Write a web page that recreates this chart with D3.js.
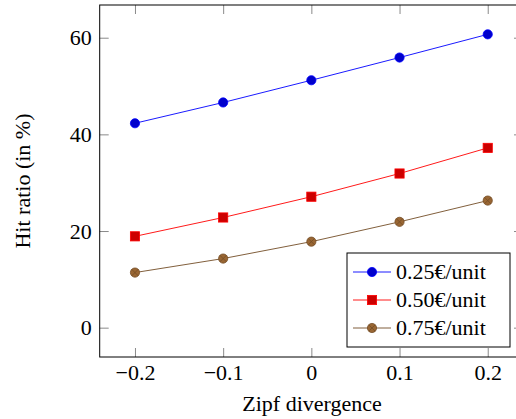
<!DOCTYPE html>
<html>
<head>
<meta charset="utf-8">
<script src="https://cdn.jsdelivr.net/npm/d3@7"></script>
<style>
  html, body { margin: 0; padding: 0; background: #fff; }
  svg { display: block; }
  svg text { font-family: "Liberation Serif", "DejaVu Serif", serif !important; fill: #000; }
</style>
</head>
<body>
<script>
// ---- data ----
const xValues = [-0.2, -0.1, 0, 0.1, 0.2];
const seriesNames = ["0.25€/unit", "0.50€/unit", "0.75€/unit"];
const series025 = [42.3, 46.6, 51.2, 55.9, 60.7];
const series050 = [18.9, 22.8, 27.1, 31.9, 37.2];
const series075 = [11.4, 14.3, 17.8, 21.9, 26.3];
const xTickValues = [-0.2, -0.1, 0, 0.1, 0.2];
const xTickLabels = ["\u22120.2", "\u22120.1", "0", "0.1", "0.2"];
const yTickValues = [0, 20, 40, 60];
const yTickLabels = ["0", "20", "40", "60"];
const xLabel = "Zipf divergence";
const yLabel = "Hit ratio (in %)";

// ---- layout ----
const W = 516, H = 419;
const pLeft = 99.7, pRight = 523, pTop = 5, pBottom = 357;
const fs = 22;
const FONT = "'Liberation Serif', 'DejaVu Serif', serif";

const styles = [
  { line: "#0000ff", fill: "#0000cc", stroke: "#0000ff", mark: "circle" },
  { line: "#ff0000", fill: "#cc0000", stroke: "#ff0000", mark: "square" },
  { line: "#734d26", fill: "#996633", stroke: "#734d26", mark: "otimes" }
];
const allSeries = [series025, series050, series075];

const svg = d3.select("body").append("svg").attr("width", W).attr("height", H)
  .attr("font-family", FONT);

const x = d3.scaleLinear().domain([-0.24, 0.24]).range([pLeft, pRight]);
const y = d3.scaleLinear().domain([-6.07, 66.77]).range([pBottom, pTop]);

const tickColor = "#8a8a8a";
const tl = 9;

const gB = svg.append("g").attr("transform", `translate(0,${pBottom})`)
  .call(d3.axisBottom(x).tickValues(xTickValues).tickSize(-tl).tickPadding(7.5)
    .tickFormat((d, i) => xTickLabels[i]));
const gT = svg.append("g").attr("transform", `translate(0,${pTop})`)
  .call(d3.axisTop(x).tickValues(xTickValues).tickSize(-tl).tickFormat(""));
const gL = svg.append("g").attr("transform", `translate(${pLeft},0)`)
  .call(d3.axisLeft(y).tickValues(yTickValues).tickSize(-tl).tickPadding(8)
    .tickFormat((d, i) => yTickLabels[i]));
const gR = svg.append("g").attr("transform", `translate(${pRight},0)`)
  .call(d3.axisRight(y).tickValues(yTickValues).tickSize(-tl).tickFormat(""));

[gB, gT, gL, gR].forEach(g => {
  g.attr("font-family", FONT).attr("font-size", fs);
  g.select(".domain").remove();
  g.selectAll(".tick line").attr("stroke", tickColor).attr("stroke-width", 1);
  g.selectAll(".tick text").attr("font-size", fs).attr("font-family", FONT).attr("fill", "#000");
});

svg.append("rect").attr("x", pLeft).attr("y", pTop)
  .attr("width", pRight - pLeft).attr("height", pBottom - pTop)
  .attr("fill", "none").attr("stroke", "#000").attr("stroke-width", 1);

svg.append("text").attr("x", 312).attr("y", 411).attr("text-anchor", "middle")
  .attr("font-family", FONT).attr("font-size", fs).text(xLabel);
svg.append("text").attr("transform", `translate(30,${(pTop + pBottom) / 2}) rotate(-90)`)
  .attr("text-anchor", "middle").attr("font-family", FONT).attr("font-size", fs).text(yLabel);

function drawMarker(g, cx, cy, st) {
  const r = 4.6;
  if (st.mark === "circle") {
    g.append("circle").attr("cx", cx).attr("cy", cy).attr("r", r)
      .attr("fill", st.fill).attr("stroke", st.stroke).attr("stroke-width", 0.8);
  } else if (st.mark === "square") {
    g.append("rect").attr("x", cx - r).attr("y", cy - r).attr("width", 2 * r).attr("height", 2 * r)
      .attr("fill", st.fill).attr("stroke", st.stroke).attr("stroke-width", 0.8);
  } else {
    g.append("circle").attr("cx", cx).attr("cy", cy).attr("r", r)
      .attr("fill", st.fill).attr("stroke", st.stroke).attr("stroke-width", 0.8);
    const d = r * 0.707;
    g.append("path").attr("d", `M${cx - d},${cy - d}L${cx + d},${cy + d}M${cx - d},${cy + d}L${cx + d},${cy - d}`)
      .attr("stroke", st.stroke).attr("stroke-width", 0.8);
  }
}

const plot = svg.append("g");
const line = d3.line().x((d, i) => x(xValues[i])).y(d => y(d));
allSeries.forEach((vals, si) => {
  const st = styles[si];
  plot.append("path").datum(vals).attr("d", line)
    .attr("fill", "none").attr("stroke", st.line).attr("stroke-width", 0.9);
  const mg = plot.append("g");
  vals.forEach((v, i) => drawMarker(mg, x(xValues[i]), y(v), st));
});

const lg = svg.append("g");
lg.append("rect").attr("x", 347).attr("y", 253).attr("width", 163).attr("height", 94)
  .attr("fill", "#fff").attr("stroke", "#000").attr("stroke-width", 1);
seriesNames.forEach((name, i) => {
  const cy = 272 + i * 28;
  const st = styles[i];
  lg.append("line").attr("x1", 353).attr("x2", 391).attr("y1", cy).attr("y2", cy)
    .attr("stroke", st.line).attr("stroke-width", 0.9);
  drawMarker(lg, 372, cy, st);
  lg.append("text").attr("x", 396).attr("y", cy + 7).attr("font-family", FONT)
    .attr("font-size", fs).text(name);
});
</script>
</body>
</html>
